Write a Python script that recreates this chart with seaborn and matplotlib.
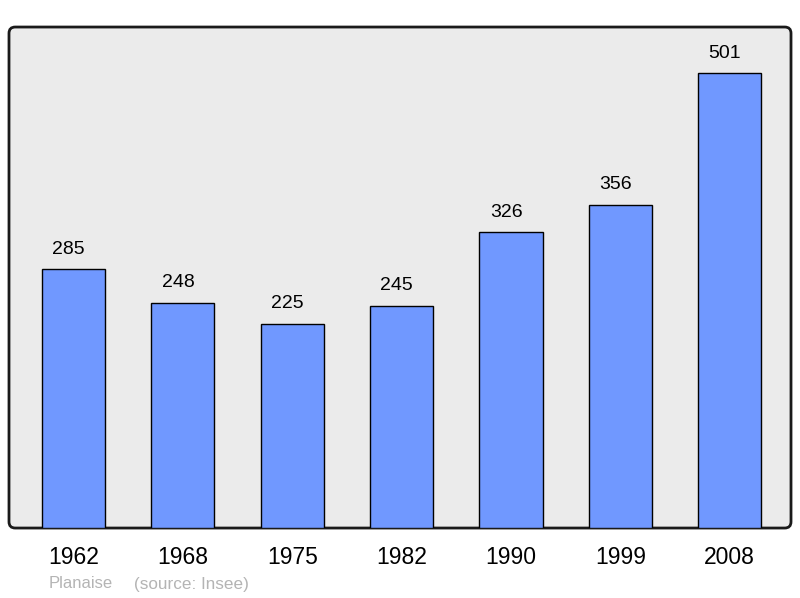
import matplotlib
matplotlib.use('Agg')
import matplotlib.pyplot as plt
import seaborn as sns
import pandas as pd
from matplotlib.patches import FancyBboxPatch

years = ['1962', '1968', '1975', '1982', '1990', '1999', '2008']
population = [285, 248, 225, 245, 326, 356, 501]
commune = 'Planaise'
source = '(source: Insee)'

df = pd.DataFrame({'Année': years, 'Population': population})

sns.set_style('white')
plt.rcParams['font.family'] = ['Liberation Sans', 'DejaVu Sans']

fig = plt.figure(figsize=(8, 5.98), dpi=100)
ax = fig.add_axes([0.01125, 0.117, 0.9775, 0.8378])
ax.patch.set_visible(False)

# rounded gray background with black frame
bg = FancyBboxPatch((0, 0), 1, 1, boxstyle='round,pad=0,rounding_size=0.008',
                    mutation_aspect=782 / 501, transform=ax.transAxes,
                    facecolor='#ebebeb', edgecolor='#1a1a1a', linewidth=2,
                    clip_on=False, zorder=0)
ax.add_patch(bg)

sns.barplot(data=df, x='Année', y='Population', color='#7098ff', saturation=1,
            edgecolor='black', linewidth=1, width=0.577, ax=ax, zorder=2)

# value labels sit slightly left of bar centre, like the original
for i, v in enumerate(population):
    ax.text(i - 0.045, v + 22, str(v), ha='center', va='center', fontsize=14, color='black')

ax.set_xlim(-0.59, 6.56)
ax.set_ylim(0, 552)
for s in ax.spines.values():
    s.set_visible(False)
ax.set_yticks([])
ax.set_xlabel('')
ax.set_ylabel('')
ax.tick_params(axis='x', length=0, pad=13, labelsize=16.5, labelcolor='black')

fig.text(49 / 800, 1 - 584 / 598, commune, fontsize=12, color='#b4b4b4', va='center')
fig.text(134 / 800, 1 - 584 / 598, source, fontsize=12.3, color='#b4b4b4', va='center')

fig.savefig('out.png', dpi=100)
